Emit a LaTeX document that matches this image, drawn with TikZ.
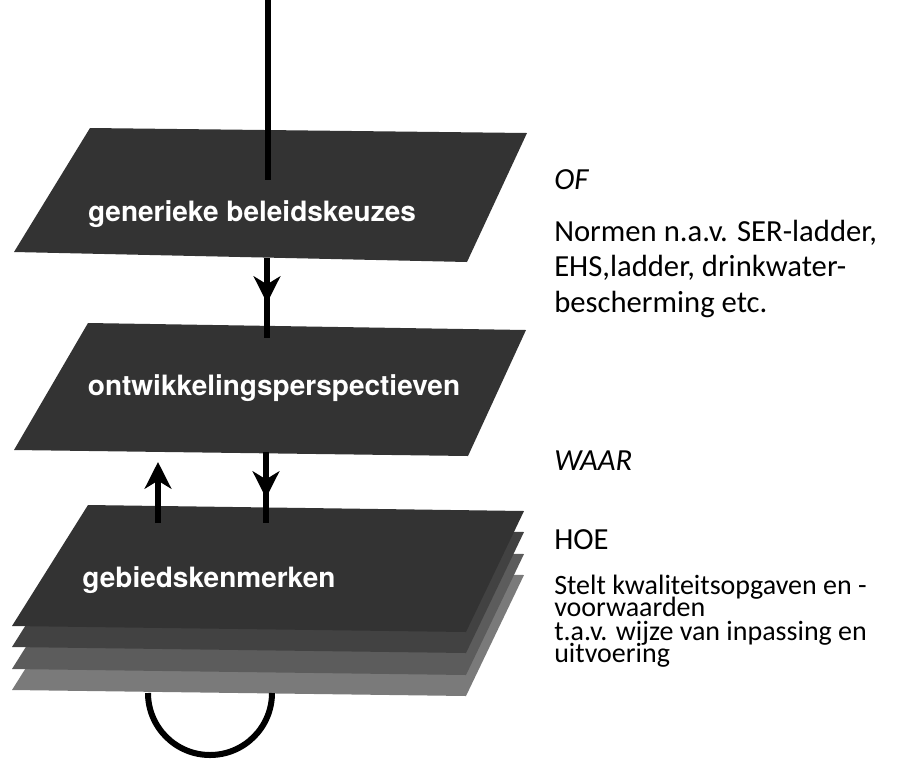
\documentclass[tikz,border=0pt]{standalone}
\usepackage{fontspec}
\setmainfont{Carlito}
\newfontfamily\planefont{TeX Gyre Heros}
\usetikzlibrary{arrows.meta}
\newcommand\tightlines{\fontsize{21}{16.5}\selectfont\lineskiplimit-20pt\relax}

\begin{document}
\begin{tikzpicture}[x=0.75pt,y=-0.75pt,
    plane/.style={fill=black!80},
    planelabel/.style={text=white,inner sep=0pt,font=\planefont\bfseries\fontsize{21}{25}\selectfont},
    note/.style={anchor=base west,inner sep=0pt,align=left,font=\fontsize{23}{26.6}\selectfont},
    flow/.style={line width=4.5pt},
    tip/.style={-{Stealth[length=20pt,width=20pt,inset=6pt]}}]
  \useasboundingbox (0,0) rectangle (911,758);
  % lighter sheets under the bottom plane
  \foreach \dy/\shade in {64/52,43/64,21/74}
    \fill[black!\shade] (88,505+\dy) -- (524,511+\dy) -- (466,632+\dy) -- (12,626+\dy) -- cycle;
  % the three planes
  \fill[plane] (90,128) -- (527,133) -- (467,262) -- (14,252) -- cycle;
  \fill[plane] (88,323) -- (526,330) -- (468,456) -- (14,450) -- cycle;
  \fill[plane] (88,505) -- (524,511) -- (466,632) -- (12,626) -- cycle;
  \node[planelabel] (gen) at (252,214) {generieke beleidskeuzes};
  \node[planelabel] (ont) at (274,388) {ontwikkelingsperspectieven};
  \node[planelabel] (geb) at (209,580) {gebiedskenmerken};
  % arrow ends
  \coordinate (in) at (268,0);
  \coordinate (in end) at (268,180);
  \coordinate (gen out) at (267,258);
  \coordinate (ont tip) at (267,303);
  \coordinate (ont in) at (267,338);
  \coordinate (ont out) at (266,452);
  \coordinate (geb tip) at (266,498);
  \coordinate (geb in) at (266,523);
  \coordinate (geb up) at (158,523);
  \coordinate (ont up) at (158,462);
  \coordinate (loop l) at (148,693);
  \draw[flow] (in) -- (in end);
  \draw[flow] (gen out) -- (ont in);
  \draw[flow,tip] (gen out) -- (ont tip);
  \draw[flow] (ont out) -- (geb in);
  \draw[flow,tip] (ont out) -- (geb tip);
  \draw[flow,tip] (geb up) -- (ont up);
  \draw[flow] (loop l) arc[start angle=180,end angle=0,radius=62];
  % notes on the right (base = last line)
  \node[note] (of) at (554,189) {\itshape OF};
  \node[note] (norm) at (554,312) {Normen n.a.v. SER-ladder,\\EHS,ladder, drinkwater-\\bescherming etc.};
  \node[note] (waar) at (554,470) {\itshape WAAR};
  \node[note] (hoe) at (554,549) {HOE};
  \node[note,font=\tightlines] (stelt) at (554,662)
    {Stelt kwaliteitsopgaven en -\\voorwaarden\\[1pt]t.a.v. wijze van inpassing en\\uitvoering};
\end{tikzpicture}
\end{document}
